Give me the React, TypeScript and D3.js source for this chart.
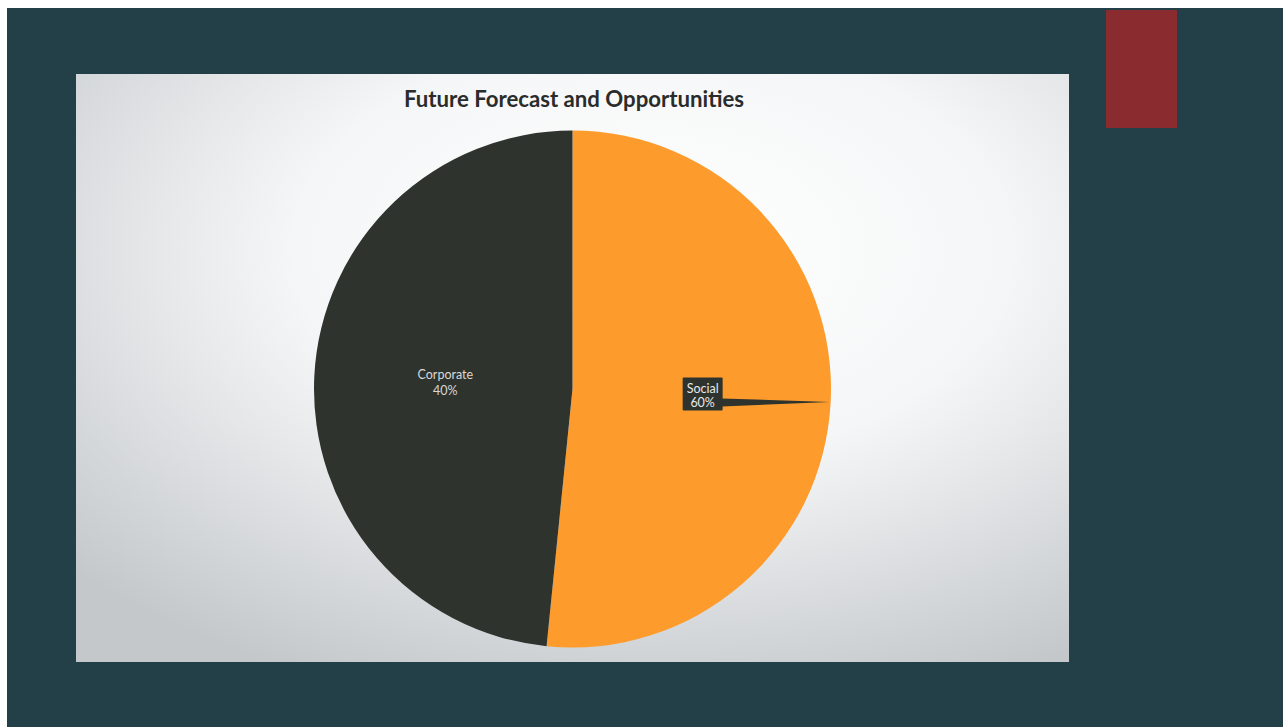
import React from "react";
import * as d3 from "d3";

const categories = ["Social", "Corporate"];
const sliceValues = [51.6, 48.4];
const percentLabels = ["60%", "40%"];
const sliceColors = ["#fd9c2d", "#2e332d"];
const titleText = "Future Forecast and Opportunities";

export default function App() {
  const W = 1288, H = 727;
  const cx = 572.5, cy = 389, R = 258.5;
  const pie = d3.pie<number>().sort(null).startAngle(0).endAngle(2 * Math.PI);
  const arcs = pie(sliceValues);
  const arc = d3.arc<d3.PieArcDatum<number>>().innerRadius(0).outerRadius(R);
  const labelArc = d3.arc<d3.PieArcDatum<number>>().innerRadius(0).outerRadius(R * 0.985);
  const font = "Lato, 'Open Sans', sans-serif";

  return (
    <svg width={W} height={H} style={{ position: "absolute", left: 0, top: 0 }}>
      <defs>
        <radialGradient id="panelGrad" cx="0.58" cy="0.3" r="0.8">
          <stop offset="0" stopColor="#ffffff" />
          <stop offset="0.45" stopColor="#f5f6f7" />
          <stop offset="1" stopColor="#c4c8cb" />
        </radialGradient>
      </defs>
      <rect x={0} y={0} width={W} height={H} fill="#ffffff" />
      <rect x={7} y={8} width={1276} height={H - 8} fill="#233f48" />
      <rect x={1106} y={10} width={71} height={118} fill="#8a2b2f" />
      <rect x={76} y={74} width={993} height={588} fill="url(#panelGrad)" />
      <text x={574} y={107} textAnchor="middle" fontFamily={font} fontWeight="bold" fontSize={22.2} fill="#2a2c2b">
        {titleText}
      </text>
      <g transform={`translate(${cx},${cy})`}>
        {arcs.map((a, i) => (
          <path key={categories[i]} d={arc(a) || ""} fill={sliceColors[i]} />
        ))}
        {arcs.map((a, i) => {
          const [lx, ly] = labelArc.centroid(a);
          const mid = (a.startAngle + a.endAngle) / 2;
          const ex = Math.sin(mid) * R;
          const ey = -Math.cos(mid) * R;
          const isSocial = i === 0;
          if (isSocial) {
            const bx = lx + 3, by = ly - 3;
            const bw = 40;
            return (
              <g key={"lbl" + i}>
                <path d={`M${bx + bw / 2 - 1},${by + 6}L${ex - 1},${ey}L${bx + bw / 2 - 1},${by + 14}Z`} fill={sliceColors[1]} />
                <rect x={bx - bw / 2} y={by - 15} width={bw} height={33} fill={sliceColors[1]} rx={1} />
                <text x={bx} y={by + 0.5} textAnchor="middle" fontFamily={font} fontSize={12.5} fill="#e8e8e8">{categories[i]}</text>
                <text x={bx} y={by + 15} textAnchor="middle" fontFamily={font} fontSize={12.5} fill="#e8e8e8">{percentLabels[i]}</text>
              </g>
            );
          }
          return (
            <g key={"lbl" + i}>
              <text x={lx} y={ly - 4} textAnchor="middle" fontFamily={font} fontSize={12.5} fill="#d8d8d8">{categories[i]}</text>
              <text x={lx} y={ly + 12} textAnchor="middle" fontFamily={font} fontSize={12.5} fill="#d8d8d8">{percentLabels[i]}</text>
            </g>
          );
        })}
      </g>
    </svg>
  );
}
